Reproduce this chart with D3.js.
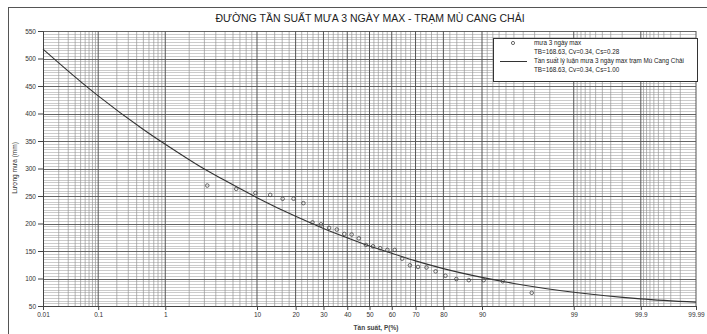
<!DOCTYPE html>
<html>
<head>
<meta charset="utf-8">
<script src="https://cdn.jsdelivr.net/npm/d3@7"></script>
<style>
  html, body { margin: 0; padding: 0; background: #fff; }
  svg { display: block; font-family: "Liberation Sans", Arial, sans-serif; }
</style>
</head>
<body>
<div id="chart"></div>
<script>
const width = 707;
const height = 334;

// empirical points: frequency P(%) and 3-day max rainfall (mm)
const pointFreq = [3.23, 6.45, 9.68, 12.9, 16.13, 19.35, 22.58, 25.81, 29.03, 32.26,
  35.48, 38.71, 41.94, 45.16, 48.39, 51.61, 54.84, 58.06, 61.29, 64.52,
  67.74, 70.97, 74.19, 77.42, 80.65, 83.87, 87.1, 90.32, 93.55, 96.77];
const pointRain = [269, 263, 255.5, 252, 245, 245, 237, 202, 198.5, 192,
  189, 181, 180, 173, 161, 158.5, 155, 152, 152, 136,
  124, 121, 120, 113, 105, 99, 97, 97, 95, 74];

// theoretical frequency curve
const curveFreq = [0.01, 0.05, 0.1, 0.5, 1, 2, 3, 5, 10, 20, 30, 40, 50, 60, 70, 80, 90, 95, 99, 99.9, 99.99];
const curveRain = [517, 458, 432, 371, 344, 316, 299, 278, 247, 213, 191, 174, 159, 146, 132, 118, 102, 91, 75, 63, 57];

const xTicks = [0.01, 0.1, 1, 10, 20, 30, 40, 50, 60, 70, 80, 90, 99, 99.9, 99.99];
const xTickLabels = ['0.01', '0.1', '1', '10', '20', '30', '40', '50', '60', '70', '80', '90', '99', '99.9', '99.99'];
const yTicks = [50, 100, 150, 200, 250, 300, 350, 400, 450, 500, 550];

const xGridMajor = [0.1, 1, 10, 20, 30, 40, 50, 60, 70, 80, 90, 99, 99.9, 99.99];
const xGridMinor = [0.02, 0.03, 0.04, 0.05, 0.06, 0.07, 0.08, 0.09,
  0.2, 0.3, 0.4, 0.5, 0.6, 0.7, 0.8, 0.9,
  2, 3, 4, 5, 6, 7, 8, 9,
  12, 14, 16, 18, 22, 24, 26, 28, 32, 34, 36, 38, 42, 44, 46, 48,
  52, 54, 56, 58, 62, 64, 66, 68, 72, 74, 76, 78, 82, 84, 86, 88,
  91, 92, 93, 94, 95, 96, 97, 98,
  99.1, 99.2, 99.3, 99.4, 99.5, 99.6, 99.7, 99.8,
  99.91, 99.92, 99.93, 99.94, 99.95, 99.96, 99.97, 99.98];
const yGridMinor = d3.range(55, 550, 5).filter(v => v % 50 !== 0);

const titleText = 'ĐƯỜNG TẦN SUẤT MƯA 3 NGÀY MAX - TRẠM MÙ CANG CHẢI';
const legendItems = [
  ['mưa 3 ngày max', 'TB=168.63, Cv=0.34, Cs=0.28'],
  ['Tần suất lý luận mưa 3 ngày max trạm Mù Cang Chải', 'TB=168.63, Cv=0.34, Cs=1.00']
];

// inverse normal CDF (Acklam) for the probability axis
function probit(p) {
  const a = [-39.69683028665376, 220.9460984245205, -275.9285104469687, 138.3577518672690, -30.66479806614716, 2.506628277459239];
  const b = [-54.47609879822406, 161.5858368580409, -155.6989798598866, 66.80131188771972, -13.28068155288572];
  const c = [-0.007784894002430293, -0.3223964580411365, -2.400758277161838, -2.549732539343734, 4.374664141464968, 2.938163982698783];
  const d = [0.007784695709041462, 0.3224671290700398, 2.445134137142996, 3.754408661907416];
  const pl = 0.02425;
  let q, r;
  if (p < pl) {
    q = Math.sqrt(-2 * Math.log(p));
    return (((((c[0] * q + c[1]) * q + c[2]) * q + c[3]) * q + c[4]) * q + c[5]) / ((((d[0] * q + d[1]) * q + d[2]) * q + d[3]) * q + 1);
  }
  if (p > 1 - pl) {
    q = Math.sqrt(-2 * Math.log(1 - p));
    return -(((((c[0] * q + c[1]) * q + c[2]) * q + c[3]) * q + c[4]) * q + c[5]) / ((((d[0] * q + d[1]) * q + d[2]) * q + d[3]) * q + 1);
  }
  q = p - 0.5;
  r = q * q;
  return (((((a[0] * r + a[1]) * r + a[2]) * r + a[3]) * r + a[4]) * r + a[5]) * q / (((((b[0] * r + b[1]) * r + b[2]) * r + b[3]) * r + b[4]) * r + 1);
}
const z = p => probit(p / 100);

const plot = { left: 43, right: 696, top: 31, bottom: 306 };

const xLin = d3.scaleLinear()
  .domain([z(0.01), z(99.99)])
  .range([plot.left, plot.right]);
const x = p => xLin(z(p));

const y = d3.scaleLinear()
  .domain([50, 550])
  .range([plot.bottom, plot.top]);

const svg = d3.select('#chart').append('svg')
  .attr('width', width)
  .attr('height', height);

svg.append('rect')
  .attr('width', width).attr('height', height)
  .attr('fill', '#fff');

// outer frame
svg.append('rect')
  .attr('x', 8.5).attr('y', 7.5)
  .attr('width', 800).attr('height', 400)
  .attr('fill', 'none')
  .attr('stroke', '#555');

// grid
const grid = svg.append('g');
grid.selectAll('line.hmin')
  .data(yGridMinor)
  .join('line')
    .attr('x1', plot.left).attr('x2', plot.right)
    .attr('y1', d => Math.round(y(d)) + 0.5).attr('y2', d => Math.round(y(d)) + 0.5)
    .attr('stroke', '#a8a8a8').attr('stroke-width', 0.6);
grid.selectAll('line.vmin')
  .data(xGridMinor)
  .join('line')
    .attr('x1', d => x(d)).attr('x2', d => x(d))
    .attr('y1', plot.top).attr('y2', plot.bottom)
    .attr('stroke', '#939393').attr('stroke-width', 0.7);
grid.selectAll('line.hmaj')
  .data(yTicks.slice(1))
  .join('line')
    .attr('x1', plot.left).attr('x2', plot.right)
    .attr('y1', d => Math.round(y(d)) + 0.5).attr('y2', d => Math.round(y(d)) + 0.5)
    .attr('stroke', '#555').attr('stroke-width', 0.9);
grid.selectAll('line.vmaj')
  .data(xGridMajor)
  .join('line')
    .attr('x1', d => x(d)).attr('x2', d => x(d))
    .attr('y1', plot.top).attr('y2', plot.bottom)
    .attr('stroke', '#555').attr('stroke-width', 1);

// axes
const yAxis = svg.append('g')
  .attr('transform', `translate(${plot.left},0)`)
  .call(d3.axisLeft(y).tickValues(yTicks).tickSize(5).tickPadding(2));
const xAxis = svg.append('g')
  .attr('transform', `translate(0,${plot.bottom})`)
  .call(d3.axisBottom(xLin)
    .tickValues(xTicks.map(z))
    .tickFormat((d, i) => xTickLabels[i])
    .tickSize(4).tickPadding(2));
[xAxis, yAxis].forEach(g => {
  g.selectAll('path, line').attr('stroke', '#444');
  g.selectAll('text').attr('fill', '#333').attr('font-size', 6.5)
    .attr('font-family', '"Liberation Sans", Arial, sans-serif');
});

// theoretical curve
const curveData = curveFreq.map((p, i) => ({ p, v: curveRain[i] }));
svg.append('path')
  .datum(curveData)
  .attr('fill', 'none')
  .attr('stroke', '#333')
  .attr('stroke-width', 1.1)
  .attr('d', d3.line()
    .x(d => x(d.p))
    .y(d => y(d.v))
    .curve(d3.curveMonotoneX));

// empirical points
svg.append('g')
  .selectAll('circle')
  .data(pointFreq.map((p, i) => ({ p, v: pointRain[i] })))
  .join('circle')
    .attr('cx', d => x(d.p))
    .attr('cy', d => y(d.v))
    .attr('r', 1.8)
    .attr('fill', 'none')
    .attr('stroke', '#444')
    .attr('stroke-width', 0.8);

// title and axis labels
svg.append('text')
  .attr('x', 370).attr('y', 22)
  .attr('text-anchor', 'middle')
  .attr('font-size', 10.5)
  .attr('fill', '#222')
  .text(titleText);

svg.append('text')
  .attr('transform', 'translate(17,168) rotate(-90)')
  .attr('text-anchor', 'middle')
  .attr('font-size', 6.5)
  .attr('fill', '#333')
  .text('Lượng mưa (mm)');

svg.append('text')
  .attr('x', 376).attr('y', 330)
  .attr('text-anchor', 'middle')
  .attr('font-size', 6.5)
  .attr('font-weight', 'bold')
  .attr('fill', '#444')
  .text('Tần suất, P(%)');

// legend
const legend = svg.append('g');
legend.append('rect')
  .attr('x', 493.5).attr('y', 38.5)
  .attr('width', 204).attr('height', 43)
  .attr('fill', '#fff')
  .attr('stroke', '#333');
legend.append('circle')
  .attr('cx', 513).attr('cy', 43)
  .attr('r', 1.6)
  .attr('fill', 'none').attr('stroke', '#444').attr('stroke-width', 0.8);
legend.append('line')
  .attr('x1', 500).attr('x2', 527)
  .attr('y1', 61.5).attr('y2', 61.5)
  .attr('stroke', '#333').attr('stroke-width', 1);
legendItems.forEach((item, i) => {
  const t = legend.append('text')
    .attr('x', 534)
    .attr('y', 45 + i * 18)
    .attr('font-size', 6.3)
    .attr('fill', '#222');
  t.append('tspan').attr('x', 534).text(item[0]);
  t.append('tspan').attr('x', 534).attr('dy', 9).text(item[1]);
});
</script>
</body>
</html>
